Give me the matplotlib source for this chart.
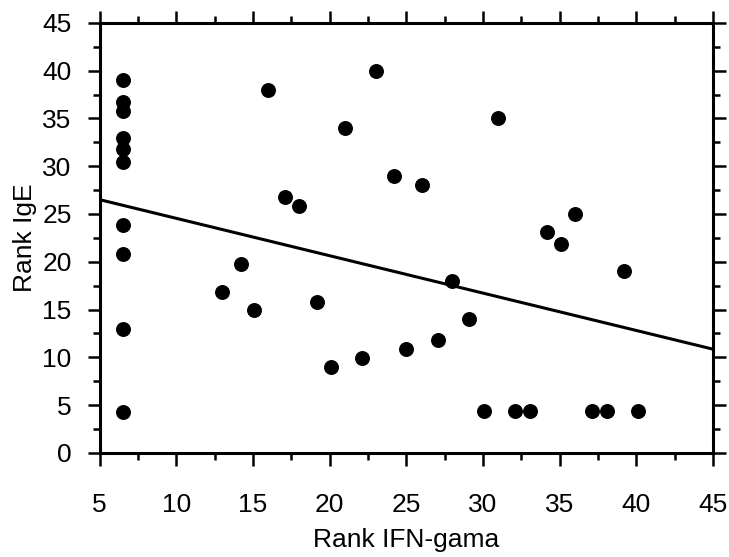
import numpy as np
import matplotlib.pyplot as plt
from matplotlib.ticker import MultipleLocator

plt.rcParams['font.family'] = ['Liberation Sans Narrow', 'Liberation Sans', 'DejaVu Sans']

# rank pairs (IFN-gama, IgE)
ifn_rank = [6.5, 6.5, 6.5, 6.5, 6.5, 6.5, 6.5, 6.5, 6.5, 6.5,
            16, 23, 21, 24.2, 17.1, 18, 31, 26, 36, 34.2, 35.1,
            14.2, 13, 15.1, 19.2, 20.1, 22.1, 25,
            39.2, 28, 29.1, 27.1,
            30.1, 32.1, 33.1, 37.1, 38.1, 40.1]
ige_rank = [39, 36.7, 35.8, 33, 31.8, 30.4, 23.8, 20.8, 13, 4.3,
            38, 40, 34, 29, 26.8, 25.8, 35, 28, 25, 23.1, 21.9,
            19.8, 16.8, 14.9, 15.8, 9, 9.9, 10.9,
            19, 18, 14, 11.8,
            4.4, 4.4, 4.4, 4.4, 4.4, 4.4]

# fitted line end points
fit_x = [5, 45]
fit_y = [26.5, 10.85]

fig = plt.figure(figsize=(7.29, 5.57), dpi=100)
ax = fig.add_axes([0.1365, 0.187, 0.8415, 0.772])

ax.scatter(ifn_rank, ige_rank, s=95, color='black', zorder=3)
ax.plot(fit_x, fit_y, color='black', lw=2.2, zorder=2)

ax.set_xlim(5, 45)
ax.set_ylim(0, 45)
ax.xaxis.set_major_locator(MultipleLocator(5))
ax.xaxis.set_minor_locator(MultipleLocator(2.5))
ax.yaxis.set_major_locator(MultipleLocator(5))
ax.yaxis.set_minor_locator(MultipleLocator(2.5))

for s in ax.spines.values():
    s.set_linewidth(2.2)

ax.tick_params(which='both', direction='out', top=True, right=True,
               width=1.8, labelsize=19)
ax.tick_params(which='major', length=9)
ax.tick_params(which='minor', length=5)
ax.tick_params(axis='x', which='major', pad=20)
ax.tick_params(axis='y', which='major', pad=11)

ax.set_xlabel('Rank IFN-gama', fontsize=19, labelpad=8)
ax.set_ylabel('Rank IgE', fontsize=19, labelpad=4)

fig.savefig('out.png', dpi=100)
